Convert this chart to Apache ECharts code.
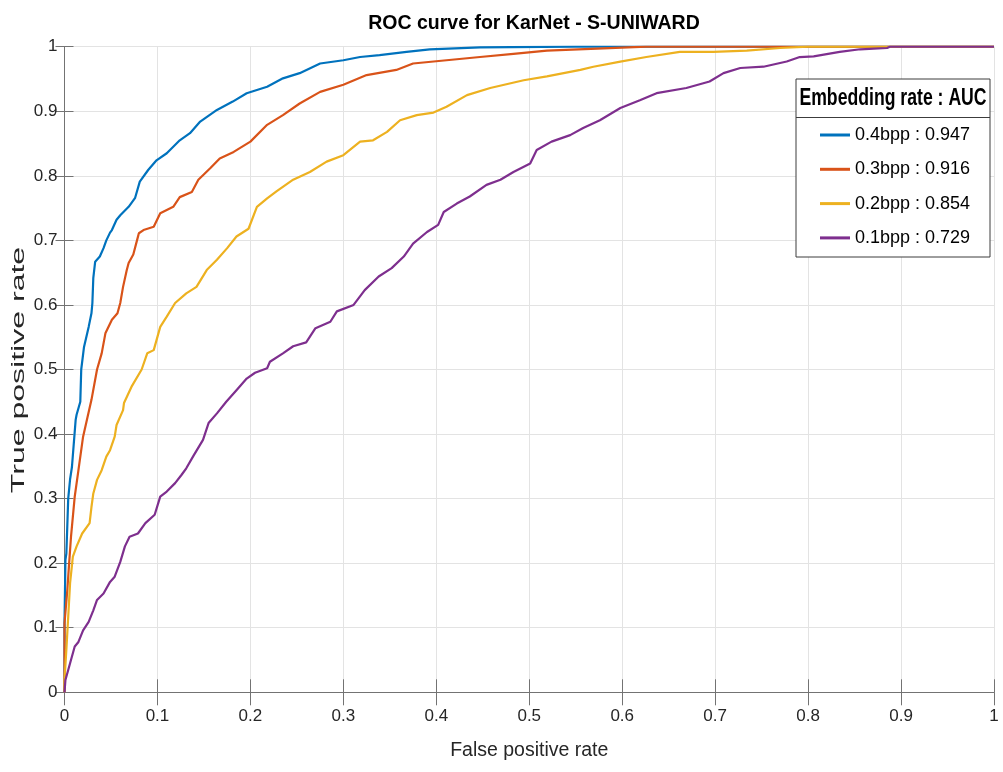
<!DOCTYPE html>
<html>
<head>
<meta charset="utf-8">
<title>ROC curve for KarNet - S-UNIWARD</title>
<script src="https://cdn.jsdelivr.net/npm/echarts@6/dist/echarts.min.js"></script>
<style>
  html, body { margin: 0; padding: 0; background: #fff; }
  #roc-chart { width: 1003px; height: 772px; }
</style>
</head>
<body>
<div id="roc-chart"></div>
<script>
// tick labels
const xTicks = ['0', '0.1', '0.2', '0.3', '0.4', '0.5', '0.6', '0.7', '0.8', '0.9', '1']
const yTicks = ['0', '0.1', '0.2', '0.3', '0.4', '0.5', '0.6', '0.7', '0.8', '0.9', '1']

// legend names
const rates = ['0.4bpp', '0.3bpp', '0.2bpp', '0.1bpp']
const aucs = ['0.947', '0.916', '0.854', '0.729']

// [false positive rate, true positive rate]
const roc04 = [
  [0, 0], [0, 0.107], [0.001, 0.205], [0.002, 0.215], [0.004, 0.30], [0.006, 0.33], [0.008, 0.349],
  [0.012, 0.422], [0.013, 0.43], [0.017, 0.45], [0.018, 0.5], [0.021, 0.535], [0.026, 0.566],
  [0.029, 0.587], [0.030, 0.603], [0.031, 0.642], [0.033, 0.667], [0.038, 0.675], [0.042, 0.688],
  [0.045, 0.70], [0.049, 0.712], [0.051, 0.716], [0.056, 0.732], [0.060, 0.739], [0.069, 0.752],
  [0.076, 0.766], [0.081, 0.791], [0.090, 0.809], [0.099, 0.824], [0.110, 0.835], [0.124, 0.855],
  [0.135, 0.866], [0.146, 0.884], [0.164, 0.902], [0.181, 0.915], [0.196, 0.928], [0.218, 0.938],
  [0.235, 0.951], [0.253, 0.959], [0.275, 0.974], [0.30, 0.979], [0.318, 0.984], [0.339, 0.987],
  [0.368, 0.992], [0.393, 0.996], [0.447, 0.999], [0.55, 1], [1, 1]
]
const roc03 = [
  [0, 0], [0, 0.107], [0.003, 0.158], [0.005, 0.2], [0.007, 0.241], [0.009, 0.272], [0.011, 0.303],
  [0.015, 0.344], [0.020, 0.396], [0.029, 0.453], [0.035, 0.5], [0.040, 0.525], [0.044, 0.556],
  [0.051, 0.577], [0.057, 0.587], [0.060, 0.603], [0.063, 0.628], [0.067, 0.654], [0.069, 0.665],
  [0.074, 0.678], [0.078, 0.70], [0.080, 0.711], [0.085, 0.716], [0.096, 0.721], [0.103, 0.742],
  [0.117, 0.752], [0.124, 0.767], [0.137, 0.775], [0.144, 0.794], [0.157, 0.812], [0.167, 0.827],
  [0.182, 0.837], [0.20, 0.853], [0.218, 0.879], [0.235, 0.894], [0.253, 0.912], [0.275, 0.93],
  [0.30, 0.941], [0.325, 0.956], [0.357, 0.964], [0.375, 0.974], [0.411, 0.979], [0.447, 0.984],
  [0.483, 0.989], [0.519, 0.994], [0.573, 0.997], [0.626, 1], [1, 1]
]
const roc02 = [
  [0, 0], [0, 0.019], [0.002, 0.066], [0.004, 0.117], [0.006, 0.169], [0.009, 0.21], [0.013, 0.226],
  [0.019, 0.246], [0.027, 0.262], [0.029, 0.287], [0.031, 0.308], [0.035, 0.329], [0.040, 0.344],
  [0.045, 0.365], [0.049, 0.375], [0.054, 0.396], [0.056, 0.414], [0.063, 0.437], [0.064, 0.448],
  [0.072, 0.473], [0.083, 0.5], [0.089, 0.525], [0.096, 0.53], [0.103, 0.566], [0.11, 0.582],
  [0.119, 0.603], [0.131, 0.618], [0.142, 0.628], [0.153, 0.654], [0.164, 0.67], [0.175, 0.688],
  [0.185, 0.706], [0.198, 0.718], [0.20, 0.721], [0.207, 0.752], [0.218, 0.765], [0.228, 0.776],
  [0.246, 0.794], [0.264, 0.806], [0.282, 0.822], [0.30, 0.832], [0.318, 0.853], [0.332, 0.855],
  [0.347, 0.868], [0.361, 0.886], [0.379, 0.894], [0.397, 0.898], [0.411, 0.907], [0.433, 0.925],
  [0.458, 0.936], [0.494, 0.948], [0.519, 0.954], [0.555, 0.964], [0.569, 0.969], [0.598, 0.977],
  [0.626, 0.984], [0.662, 0.992], [0.698, 0.992], [0.734, 0.994], [0.77, 0.998], [0.80, 1], [1, 1]
]
const roc01 = [
  [0, 0], [0.001, 0.019], [0.006, 0.045], [0.011, 0.071], [0.015, 0.078], [0.020, 0.096], [0.026, 0.109],
  [0.031, 0.127], [0.035, 0.143], [0.042, 0.153], [0.049, 0.171], [0.054, 0.179], [0.060, 0.202],
  [0.065, 0.226], [0.070, 0.241], [0.079, 0.246], [0.087, 0.262], [0.097, 0.275], [0.103, 0.303],
  [0.110, 0.311], [0.119, 0.324], [0.126, 0.337], [0.131, 0.347], [0.139, 0.367], [0.149, 0.391],
  [0.155, 0.417], [0.164, 0.432], [0.174, 0.45], [0.185, 0.468], [0.196, 0.486], [0.205, 0.495],
  [0.218, 0.502], [0.221, 0.512], [0.235, 0.525], [0.246, 0.536], [0.26, 0.542], [0.27, 0.564],
  [0.286, 0.574], [0.293, 0.59], [0.311, 0.60], [0.323, 0.623], [0.338, 0.644], [0.352, 0.657],
  [0.365, 0.675], [0.375, 0.695], [0.39, 0.713], [0.402, 0.724], [0.408, 0.744], [0.422, 0.757],
  [0.436, 0.768], [0.454, 0.786], [0.469, 0.794], [0.483, 0.806], [0.501, 0.819], [0.508, 0.84],
  [0.524, 0.853], [0.544, 0.863], [0.558, 0.874], [0.576, 0.886], [0.598, 0.905], [0.619, 0.917],
  [0.637, 0.928], [0.669, 0.936], [0.694, 0.946], [0.709, 0.959], [0.727, 0.967], [0.752, 0.969],
  [0.777, 0.977], [0.791, 0.984], [0.806, 0.985], [0.834, 0.992], [0.856, 0.996], [0.885, 0.998],
  [0.888, 1], [1, 1]
]

const curves = [roc04, roc03, roc02, roc01]
const colors = ['#0072bd', '#d95319', '#edb120', '#7e2f8e']

const sans = '"Liberation Sans", Arial, Helvetica, sans-serif'
const axisGray = '#737373'

let chart = undefined

function initChart() {
  chart = echarts.init(document.getElementById('roc-chart'), null, {renderer: 'canvas'})

  const series = curves.map((data, i) => ({
    name: rates[i] + ' : ' + aucs[i],
    type: 'line',
    data: data,
    symbol: 'none',
    showSymbol: false,
    lineStyle: {color: colors[i], width: 2.2},
    itemStyle: {color: colors[i]},
    z: 2
  }))

  const option = {
    animation: false,
    backgroundColor: '#ffffff',
    title: {
      text: 'ROC curve for KarNet - S-UNIWARD',
      left: 529,
      textAlign: 'center',
      top: 9,
      textStyle: {fontFamily: sans, fontWeight: 'bold', fontSize: 19.5, color: '#000'}
    },
    grid: {left: 64.5, right: 9, top: 46.7, bottom: 79.7, containLabel: false},
    legend: {
      orient: 'vertical',
      left: 815,
      top: 120,
      icon: 'rect',
      itemWidth: 30,
      itemHeight: 3,
      itemGap: 14.3,
      z: 10,
      data: series.map(s => s.name),
      textStyle: {fontFamily: sans, fontSize: 18, lineHeight: 20, color: '#000'}
    },
    xAxis: [
      {
        type: 'value', min: 0, max: 1, interval: 0.1, position: 'bottom',
        name: 'False positive rate', nameLocation: 'middle', nameGap: 48,
        nameTextStyle: {fontFamily: sans, fontSize: 19.5, color: '#262626'},
        axisLine: {show: true, lineStyle: {color: axisGray, width: 1}},
        axisTick: {show: true, inside: true, length: 13, lineStyle: {color: axisGray}},
        axisLabel: {
          fontFamily: sans, fontSize: 17, color: '#262626', margin: 16,
          formatter: v => xTicks[Math.round(v * 10)]
        },
        splitLine: {show: true, lineStyle: {color: '#e3e3e3', width: 1}}
      },
      {
        type: 'value', min: 0, max: 1, interval: 0.1, position: 'top',
        axisLine: {show: true, lineStyle: {color: axisGray, width: 1}},
        axisTick: {show: true, inside: true, length: 13, lineStyle: {color: axisGray}},
        axisLabel: {show: false},
        splitLine: {show: false}
      }
    ],
    yAxis: [
      {
        type: 'value', min: 0, max: 1, interval: 0.1, position: 'left',
        axisLine: {show: true, lineStyle: {color: axisGray, width: 1}},
        axisTick: {show: true, inside: true, length: 9, lineStyle: {color: axisGray}},
        axisLabel: {
          fontFamily: sans, fontSize: 17, color: '#262626', margin: 7,
          formatter: v => yTicks[Math.round(v * 10)]
        },
        splitLine: {show: true, lineStyle: {color: '#e3e3e3', width: 1}}
      },
      {
        type: 'value', min: 0, max: 1, interval: 0.1, position: 'right',
        axisLine: {show: true, lineStyle: {color: axisGray, width: 1}},
        axisTick: {show: true, inside: true, length: 9, lineStyle: {color: axisGray}},
        axisLabel: {show: false},
        splitLine: {show: false}
      }
    ],
    graphic: [
      {
        // y axis title, stretched along its length like the source image
        type: 'text',
        x: 19, y: 370,
        rotation: Math.PI / 2,
        scaleX: 1.78,
        style: {
          text: 'True positive rate',
          font: '18px ' + sans,
          fill: '#262626',
          align: 'center',
          verticalAlign: 'middle'
        }
      },
      {
        type: 'rect', z: 3,
        shape: {x: 796, y: 79, width: 194, height: 178},
        style: {fill: '#ffffff', stroke: '#3c3c3c', lineWidth: 1}
      },
      {
        type: 'line', z: 3,
        shape: {x1: 796, y1: 117.5, x2: 990, y2: 117.5},
        style: {stroke: '#3c3c3c', lineWidth: 1}
      },
      {
        type: 'text', z: 3,
        x: 893, y: 99,
        scaleX: 0.84,
        scaleY: 1.12,
        style: {
          text: 'Embedding rate : AUC',
          font: 'bold 21px ' + sans,
          fill: '#000',
          align: 'center',
          verticalAlign: 'middle'
        }
      }
    ],
    series: series
  }

  chart.setOption(option)
}

initChart()
</script>
</body>
</html>
